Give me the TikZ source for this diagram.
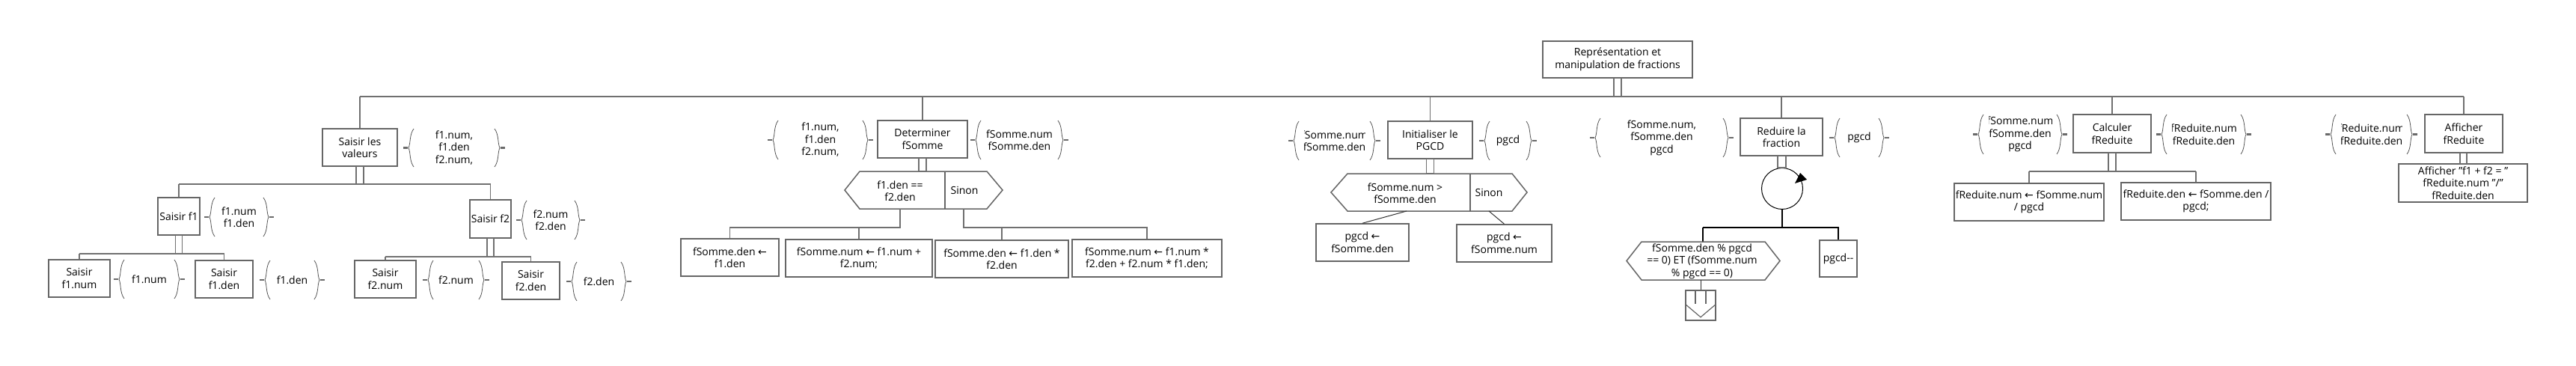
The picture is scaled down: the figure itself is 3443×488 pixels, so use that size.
\documentclass[tikz,border=0pt]{standalone}
\usepackage{fontspec}
\setmainfont{Open Sans}
\newfontfamily\arrfont{DejaVu Sans}
\usetikzlibrary{calc}
\newcommand\diafont{\fontsize{14pt}{16.5pt}\selectfont}
\newcommand\myarr{{\arrfont ←}}
\definecolor{bxc}{HTML}{666666}
\definecolor{lnc}{HTML}{707070}
\definecolor{brcol}{HTML}{555555}
\definecolor{mkcol}{HTML}{6a6a6a}
\tikzset{
  box/.style={draw=bxc, line width=1.5pt, fill=white, align=center, inner sep=0pt, font=\diafont},
  lbl/.style={align=center, inner sep=0pt, font=\diafont},
  conn/.style={draw=lnc, line width=1.3pt},
  dbl/.style={draw=lnc, line width=1.3pt, fill=white},
  blk/.style={draw=black, line width=1.1pt},
  hexs/.style={draw=bxc, line width=1.5pt, line join=miter},
  brc/.style={draw=brcol, line width=0.8pt},
  flowmark/.style={draw=mkcol, line width=2.4pt}
}
\newcommand\flowgrp[6]{%
  \pgfmathsetmacro\grpmid{(#3+#4)/2}
  \draw[brc] (#1+7,#3) .. controls (#1+1,#3+8) and (#1+3,\grpmid-6) .. (#1,\grpmid) .. controls (#1+3,\grpmid+6) and (#1+1,#4-8) .. (#1+7,#4);
  \draw[brc] (#2-7,#3) .. controls (#2-1,#3+8) and (#2-3,\grpmid-6) .. (#2,\grpmid) .. controls (#2-3,\grpmid+6) and (#2-1,#4-8) .. (#2-7,#4);
  \draw[flowmark] (#1-7,\grpmid) -- (#1-1,\grpmid);
  \draw[flowmark] (#2+1,\grpmid) -- (#2+7,\grpmid);
  \begin{scope}
    \clip (#1+14,#3) rectangle (#2-14,#4);
    \node[lbl] (#6) at ({(#1+#2)/2},\grpmid) {#5};
  \end{scope}
}
\begin{document}
\begin{tikzpicture}[x=1pt,y=-1pt]
\useasboundingbox (0,0) rectangle (3443,488);
\fill[white] (0,0) rectangle (3443,488);

% ---------- nodes ----------
\node[box, minimum width=200pt, minimum height=49pt] (root) at (2162,79.5) {Représentation et\\manipulation de fractions};

\node[box, minimum width=100pt, minimum height=50pt] (sv) at (481,197) {Saisir les\\valeurs};
\node[box, minimum width=120pt, minimum height=50pt] (det) at (1233,186) {Determiner\\fSomme};
\node[box, minimum width=113pt, minimum height=50pt] (ini) at (1911.5,187) {Initialiser le\\PGCD};
\node[box, minimum width=110pt, minimum height=50pt] (red) at (2381,183) {Reduire la\\fraction};
\node[box, minimum width=104pt, minimum height=51pt] (cal) at (2823,178.5) {Calculer\\fReduite};
\node[box, minimum width=104pt, minimum height=51pt] (aff) at (3293,178.5) {Afficher\\fReduite};

\node[box, minimum width=56pt, minimum height=50pt] (sf1) at (239,289) {Saisir f1};
\node[box, minimum width=55pt, minimum height=51pt] (sf2) at (655.5,292.5) {Saisir f2};
\node[box, minimum width=82pt, minimum height=50pt] (s1n) at (106,372) {Saisir\\f1.num};
\node[box, minimum width=77pt, minimum height=50pt] (s1d) at (299.5,373) {Saisir\\f1.den};
\node[box, minimum width=82pt, minimum height=50pt] (s2n) at (515,373) {Saisir\\f2.num};
\node[box, minimum width=77pt, minimum height=50pt] (s2d) at (709.5,375) {Saisir\\f2.den};

\node[box, minimum width=131pt, minimum height=50pt] (b1) at (975.5,344) {fSomme.den \myarr\\f1.den};
\node[box, minimum width=196pt, minimum height=50pt] (b2) at (1148,345) {fSomme.num \myarr{} f1.num +\\f2.num;};
\node[box, minimum width=178pt, minimum height=50pt] (b3) at (1339,346) {fSomme.den \myarr{} f1.den *\\f2.den};
\node[box, minimum width=200pt, minimum height=50pt] (b4) at (1533,345) {fSomme.num \myarr{} f1.num *\\f2.den + f2.num * f1.den;};

\node[box, minimum width=124pt, minimum height=50pt] (p1) at (1821,324) {pgcd \myarr\\fSomme.den};
\node[box, minimum width=127pt, minimum height=50pt] (p2) at (2010.5,325) {pgcd \myarr\\fSomme.num};

\node[box, minimum width=50pt, minimum height=49pt] (pgm) at (2457,345.5) {pgcd-{}-};
\node[box, minimum width=40pt, minimum height=40pt] (exit) at (2273,408) {};

\node[box, minimum width=200pt, minimum height=50pt] (c1) at (2712,270) {fReduite.num \myarr{} fSomme.num\\/ pgcd};
\node[box, minimum width=200pt, minimum height=50pt] (c2) at (2935,269) {fReduite.den \myarr{} fSomme.den /\\pgcd;};
\node[box, minimum width=172pt, minimum height=51pt] (a1) at (3292,244.5) {Afficher "f1 + f2 = "\\fReduite.num "/"\\fReduite.den};

% ---------- main bar ----------
\coordinate (mb) at (0,129);
\draw[conn] (sv.north |- mb) -- (aff.north |- mb);
\foreach \n in {sv,det,ini,red,cal,aff} { \draw[conn] (\n.north) -- (\n.north |- mb); }
\draw[dbl] ($(root.south)+(-5,0)$) rectangle ($(root.south |- mb)+(5,0)$);

% ---------- Saisir les valeurs subtree ----------
\coordinate (svb) at (0,246);
\draw[conn] (sf1.north |- svb) -- (sf2.north |- svb);
\draw[conn] (sf1.north) -- (sf1.north |- svb);
\draw[conn] (sf2.north) -- (sf2.north |- svb);
\draw[dbl] ($(sv.south)+(-5,0)$) rectangle ($(sv.south |- svb)+(5,0)$);

\coordinate (f1b) at (0,339);
\draw[conn] (s1n.north |- f1b) -- (s1d.north |- f1b);
\draw[conn] (s1n.north) -- (s1n.north |- f1b);
\draw[conn] (s1d.north) -- (s1d.north |- f1b);
\draw[dbl] ($(sf1.south)+(-4.5,0)$) rectangle ($(sf1.south |- f1b)+(4.5,0)$);

\coordinate (f2b) at (0,343);
\draw[conn] (s2n.north |- f2b) -- (s2d.north |- f2b);
\draw[conn] (s2n.north) -- (s2n.north |- f2b);
\draw[conn] (s2d.north) -- (s2d.north |- f2b);
\draw[dbl] ($(sf2.south)+(-4.5,0)$) rectangle ($(sf2.south |- f2b)+(4.5,0)$);

% ---------- Determiner fSomme ----------
\coordinate (hdT) at (1233,229);
\draw[hexs] (1129,254) -- (1149,229) -- (1319,229) -- (1340,254) -- (1319,279) -- (1149,279) -- cycle;
\draw[hexs] (1263,229) -- (1263,279);
\node[lbl] (hdc) at (1203,255) {f1.den ==\\f2.den};
\node[lbl] (hds) at (1289,254) {Sinon};
\draw[dbl] ($(det.south)+(-5,0)$) rectangle ($(det.south |- hdT)+(5,0)$);
\coordinate (hdL) at (1203,279);
\coordinate (hdR) at (1288,279);
\coordinate (hdb) at (0,304);
\draw[conn] (hdL) -- (hdL |- hdb) -- (b1.north |- hdb) -- (b1.north);
\draw[conn] (b2.north |- hdb) -- (b2.north);
\draw[conn] (hdR) -- (hdR |- hdb) -- (b4.north |- hdb) -- (b4.north);
\draw[conn] (b3.north |- hdb) -- (b3.north);

% ---------- Initialiser le PGCD ----------
\coordinate (hiT) at (1911,232);
\draw[hexs] (1779,257) -- (1801,232) -- (2021,232) -- (2041,257) -- (2021,282) -- (1801,282) -- cycle;
\draw[hexs] (1965,232) -- (1965,282);
\node[lbl] (hic) at (1878,258) {fSomme.num >\\fSomme.den};
\node[lbl] (his) at (1990,257) {Sinon};
\draw[dbl] ($(ini.south)+(-5,0)$) rectangle ($(ini.south |- hiT)+(5,0)$);
\coordinate (hiL) at (1880,282);
\coordinate (hiR) at (1990,282);
\draw[conn, line width=1pt, draw=black!80] (hiL) -- (p1.north);
\draw[conn, line width=1pt, draw=black!80] (hiR) -- (p2.north);

% ---------- Reduire la fraction ----------
\node[circle, draw=black, line width=1pt, minimum size=55pt, inner sep=0pt] (loop) at (2382,252) {};
\draw[dbl] ($(red.south)+(-5,0)$) rectangle ($(loop.north)+(5,0)$);
\fill[black] (2399,245) -- (2415,240) -- (2406,231) -- cycle;
\coordinate (rb) at (0,304);
\coordinate (hxT) at (2276,323);
\draw[blk] (loop.south) -- (loop.south |- rb);
\draw[blk] (hxT |- rb) -- (pgm.north |- rb) -- (pgm.north);
\draw[blk] (hxT |- rb) -- (hxT);
\draw[hexs] (2174,348.5) -- (2194,323) -- (2359,323) -- (2379,348.5) -- (2359,374) -- (2194,374) -- cycle;
\node[lbl] (hxc) at (2275,349) {fSomme.den \% pgcd\\== 0) ET (fSomme.num\\\% pgcd == 0)};
\coordinate (hxB) at (2273,374);
\draw[conn, draw=black!80, line width=1pt] (hxB) -- (exit.north);
\draw[draw=bxc, line width=1.2pt] ($(exit.north)+(-7,0)$) -- ++(0,19);
\draw[draw=bxc, line width=1.2pt] ($(exit.north)+(7,0)$) -- ++(0,19);
\draw[draw=bxc, line width=1.2pt] ($(exit.west)+(1,-1)$) -- ($(exit.south)+(0,-5)$) -- ($(exit.east)+(-1,-1)$);

% ---------- Calculer fReduite ----------
\coordinate (cb) at (0,229);
\draw[conn] (c1.north |- cb) -- (c2.north |- cb);
\draw[conn] (c1.north) -- (c1.north |- cb);
\draw[conn] (c2.north) -- (c2.north |- cb);
\draw[dbl] ($(cal.south)+(-5,0)$) rectangle ($(cal.south |- cb)+(5,0)$);

% ---------- Afficher fReduite ----------
\draw[dbl] ($(aff.south)+(-5,0)$) rectangle ($(a1.north)+(5,0)$);

% ---------- data flow groups ----------
\flowgrp{546}{668}{172}{223}{f1.num,\\f1.den\\f2.num,}{g1}
\flowgrp{280}{359}{264}{316}{f1.num\\f1.den}{g2}
\flowgrp{697}{775}{268}{320}{f2.num\\f2.den}{g3}
\flowgrp{159}{240}{347}{399}{f1.num}{g4}
\flowgrp{354}{427}{348}{400}{f1.den}{g5}
\flowgrp{572}{647}{348}{400}{f2.num}{g6}
\flowgrp{764}{837}{350}{402}{f2.den}{g7}
\flowgrp{1033}{1160}{161}{213}{f1.num,\\f1.den\\f2.num,}{g8}
\flowgrp{1304}{1421}{161}{213}{fSomme.num\\fSomme.den}{g9}
\flowgrp{1729}{1838}{162}{214}{fSomme.num\\fSomme.den}{g10}
\flowgrp{1984}{2047}{162}{214}{pgcd}{g11}
\flowgrp{2132}{2310}{158}{210}{fSomme.num,\\fSomme.den\\pgcd}{g12}
\flowgrp{2452}{2518}{158}{210}{pgcd}{g13}
\flowgrp{2644}{2756}{153}{206}{fSomme.num\\fSomme.den\\pgcd}{g14}
\flowgrp{2889}{3002}{153}{206}{fReduite.num\\fReduite.den}{g15}
\flowgrp{3115}{3224}{153}{206}{fReduite.num\\fReduite.den}{g16}
\end{tikzpicture}
\end{document}
